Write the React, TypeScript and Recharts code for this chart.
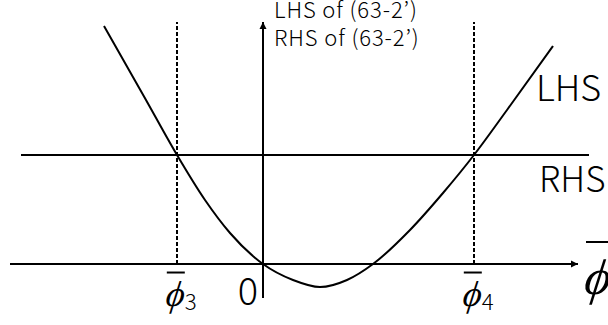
import { ComposedChart, Line, XAxis, YAxis, ReferenceLine, ReferenceDot } from 'recharts'

// LHS curve of (63-2'), sampled along phi-bar
const curveX = [-159, -117, -86, -58, -33, 0, 30, 57, 84, 110, 147, 180, 211, 244, 290]
const curveY = [238, 164, 109, 64, 31, 0, -16, -23, -16, 0, 34, 71, 109, 154, 218]

// RHS level and the two crossings
const rhsLevel = 109
const phi3 = -86
const phi4 = 211

// axis extents
const xAxisRange = [-253, 315]
const yAxisRange = [-34, 242]
const rhsRange = [-242, 326]

const data = curveX.map((x, i) => ({ x, y: curveY[i] }))

const INK = '#000'
const SANS = "'Noto Sans CJK JP', 'Noto Sans', sans-serif"
const SERIF = "'Liberation Serif', serif"

function arrowLine(dir: 'right' | 'up') {
  return (p: any) => {
    const { x1, y1, x2, y2 } = p
    const tipX = dir === 'right' ? Math.max(x1, x2) : x1
    const tipY = dir === 'up' ? Math.min(y1, y2) : y1
    const head =
      dir === 'right'
        ? `${tipX},${tipY} ${tipX - 7},${tipY - 3.5} ${tipX - 7},${tipY + 3.5}`
        : `${tipX},${tipY} ${tipX - 3.5},${tipY + 7} ${tipX + 3.5},${tipY + 7}`
    return (
      <g>
        <line x1={x1} y1={y1} x2={x2} y2={y2} stroke={INK} strokeWidth={2} />
        <polygon points={head} fill={INK} />
      </g>
    )
  }
}

// phi with an overbar; x is the glyph centre, y its baseline
function PhiBar({ x, y, size, bar, sub }: { x: number; y: number; size: number; bar: number; sub?: string }) {
  return (
    <g>
      <line x1={x - size * 0.2} x2={x + size * 0.3} y1={y - size * bar} y2={y - size * bar} stroke={INK} strokeWidth={2} />
      <text
        x={x}
        y={y}
        textAnchor="middle"
        fontFamily={SERIF}
        fontStyle="italic"
        fontSize={size}
        fill={INK}
        transform={`translate(${x},${y}) skewX(-8) translate(${-x},${-y})`}
      >
        ϕ
      </text>
      {sub && (
        <text x={x + size * 0.3} y={y + size * 0.12} fontFamily={SANS} fontWeight={300} fontSize={size * 0.62} fill={INK}>
          {sub}
        </text>
      )}
    </g>
  )
}

const crossLabel = (sub: string) => (p: any) => {
  const { x, y, height } = p.viewBox
  return <PhiBar x={x - 3} y={y + height + 42} size={36} bar={0.93} sub={sub} />
}

export default function App() {
  return (
    <div style={{ position: 'absolute', left: 0, top: 0, background: '#fff' }}>
      <ComposedChart width={608} height={325} data={data} margin={{ top: 0, right: 0, bottom: 0, left: 0 }}>
        <XAxis type="number" dataKey="x" domain={[-263, 345]} allowDataOverflow hide />
        <YAxis type="number" domain={[-61, 264]} allowDataOverflow hide />

        <ReferenceLine
          segment={[{ x: xAxisRange[0], y: 0 }, { x: xAxisRange[1], y: 0 }]}
          shape={arrowLine('right')}
          ifOverflow="visible"
          label={(p: any) => {
            const { x, y, width } = p.viewBox
            return <PhiBar x={x + width + 18} y={y + 30} size={50} bar={1.04} />
          }}
        />
        <ReferenceLine
          segment={[{ x: 0, y: yAxisRange[0] }, { x: 0, y: yAxisRange[1] }]}
          shape={arrowLine('up')}
          ifOverflow="visible"
          label={(p: any) => {
            const { x, y, height } = p.viewBox
            return (
              <g fontFamily={SANS} fontWeight={300} fill={INK}>
                <text x={x + 11} y={y - 4} fontSize={22} letterSpacing={0.9}>LHS of (63-2’)</text>
                <text x={x + 11} y={y + 24} fontSize={22} letterSpacing={0.9}>RHS of (63-2’)</text>
                {/* origin mark, set from the foot of the axis */}
                <text x={x - 5} y={y + height + 7} textAnchor="end" fontSize={38}>0</text>
              </g>
            )
          }}
        />

        <ReferenceLine
          segment={[{ x: rhsRange[0], y: rhsLevel }, { x: rhsRange[1], y: rhsLevel }]}
          stroke={INK}
          strokeWidth={2}
          ifOverflow="visible"
          label={(p: any) => {
            const { x, y, width } = p.viewBox
            return (
              <text x={x + width - 50} y={y + 37} fontFamily={SANS} fontWeight={300} fontSize={35} fill={INK}>
                RHS
              </text>
            )
          }}
        />

        <ReferenceLine
          segment={[{ x: phi3, y: 0 }, { x: phi3, y: yAxisRange[1] }]}
          stroke={INK}
          strokeWidth={2}
          strokeDasharray="4 2"
          ifOverflow="visible"
          label={crossLabel('3')}
        />
        <ReferenceLine
          segment={[{ x: phi4, y: 0 }, { x: phi4, y: yAxisRange[1] }]}
          stroke={INK}
          strokeWidth={2}
          strokeDasharray="4 2"
          ifOverflow="visible"
          label={crossLabel('4')}
        />

        <ReferenceDot
          x={curveX[curveX.length - 1]}
          y={curveY[curveY.length - 1]}
          r={0}
          fill="none"
          stroke="none"
          ifOverflow="visible"
          label={(p: any) => {
            const { x, y } = p.viewBox
            return (
              <text x={x - 17} y={y + 55} fontFamily={SANS} fontWeight={300} fontSize={36} fill={INK}>
                LHS
              </text>
            )
          }}
        />

        <Line
          type="monotone"
          dataKey="y"
          stroke={INK}
          strokeWidth={2}
          dot={false}
          activeDot={false}
          isAnimationActive={false}
        />
      </ComposedChart>
    </div>
  )
}
